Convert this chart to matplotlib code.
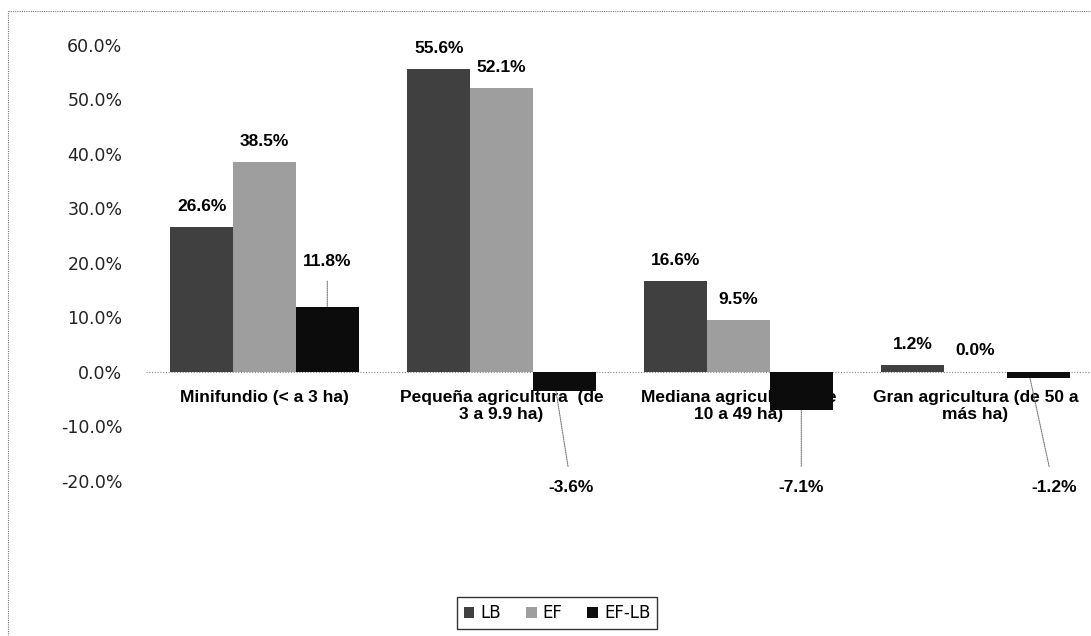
import matplotlib.pyplot as plt
from matplotlib.lines import Line2D
import numpy as np

# data
categories = ["Minifundio (< a 3 ha)",
              "Pequeña agricultura  (de\n3 a 9.9 ha)",
              "Mediana agricultura (de\n10 a 49 ha)",
              "Gran agricultura (de 50 a\nmás ha)"]
lb = [26.6, 55.6, 16.6, 1.2]
ef = [38.5, 52.1, 9.5, 0.0]
ef_lb = [11.8, -3.6, -7.1, -1.2]
series_names = ["LB", "EF", "EF-LB"]

colors = ["#404040", "#9e9e9e", "#0c0c0c"]
lab_font = dict(family=["Liberation Sans Narrow", "Liberation Sans", "DejaVu Sans"],
                fontweight="bold", fontsize=12.5)

fig = plt.figure(figsize=(10.91, 6.36), dpi=100)
ax = fig.add_axes([146 / 1091, 1 - 535 / 636, 948 / 1091, 490 / 636])

x = np.arange(len(categories))
w = 0.265
offsets = [-w, 0, w]
all_series = [lb, ef, ef_lb]
for k, vals in enumerate(all_series):
    ax.bar(x + offsets[k], vals, width=w, color=colors[k], label=series_names[k],
           linewidth=0, zorder=3)

ax.set_xlim(-0.5, 3.5)
ax.set_ylim(-30, 60)
ax.set_yticks(np.arange(-20, 61, 10))
ax.set_yticklabels(["%.1f%%" % t for t in np.arange(-20, 61, 10)])
ax.tick_params(axis="y", length=0, pad=17, labelsize=12.5, labelcolor="#222222")
ax.set_xticks([])
for s in ax.spines.values():
    s.set_visible(False)
ax.axhline(0, color="#888888", lw=0.8, ls=(0, (1, 1.5)), zorder=0)

# data labels for LB and EF
for k in range(2):
    for i, v in enumerate(all_series[k]):
        ax.annotate("%.1f%%" % v, xy=(x[i] + offsets[k], v), xytext=(0, 15),
                    textcoords="offset points", ha="center", va="center", zorder=4, **lab_font)

# data labels for EF-LB with leader lines
neg_dx = [0, 0.03, 0.0, 0.065]
for i, v in enumerate(ef_lb):
    bx = x[i] + offsets[2]
    if v > 0:
        ax.annotate("%.1f%%" % v, xy=(bx, v + 0.2), xytext=(bx, v + 8.5),
                    ha="center", va="center", zorder=4, **lab_font,
                    arrowprops=dict(arrowstyle="-", color="#777777", lw=0.8,
                                    ls=(0, (1, 1)), shrinkA=7, shrinkB=0))
    else:
        start = bx if i == 2 else bx - 0.035
        ax.annotate("%.1f%%" % v, xy=(start, v), xytext=(bx + neg_dx[i], -21.3),
                    ha="center", va="center", zorder=4, **lab_font,
                    arrowprops=dict(arrowstyle="-", color="#777777", lw=0.8,
                                    ls=(0, (1, 1)), shrinkA=8, shrinkB=0))

# category labels next to the zero line (drawn under the bars)
for i, c in enumerate(categories):
    ax.annotate(c, xy=(x[i], 0), xytext=(0, -13), textcoords="offset points",
                ha="center", va="top", linespacing=1.15, zorder=2, **lab_font)

leg = ax.legend(loc="center", bbox_to_anchor=(557 / 1091, 1 - 613 / 636),
                bbox_transform=fig.transFigure, ncol=3, frameon=True, fancybox=False,
                edgecolor="black", fontsize=12, handlelength=0.65, handleheight=0.65,
                handletextpad=0.35, columnspacing=1.5, borderpad=0.4, borderaxespad=0)
leg.get_frame().set_linewidth(1.0)

# dotted outer frame of the chart area
fig.add_artist(Line2D([8 / 1091, 1.0], [1 - 11 / 636, 1 - 11 / 636], transform=fig.transFigure,
                      color="#777777", lw=0.8, ls=(0, (1, 1))))
fig.add_artist(Line2D([8 / 1091, 8 / 1091], [0, 1 - 11 / 636], transform=fig.transFigure,
                      color="#777777", lw=0.8, ls=(0, (1, 1))))

fig.savefig("out.png", dpi=100)
